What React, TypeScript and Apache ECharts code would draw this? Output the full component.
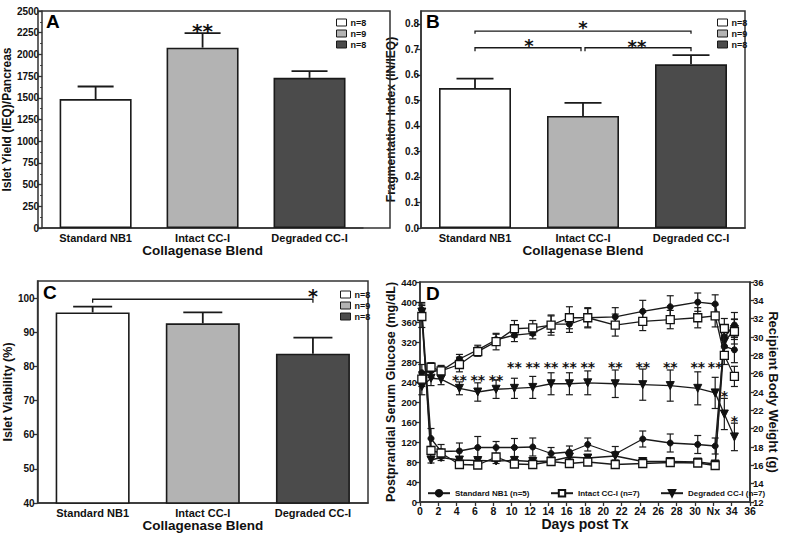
import React, { useEffect, useRef } from 'react';
import * as echarts from 'echarts';

const FONT = '"Liberation Sans", Arial, Helvetica, sans-serif';
const STAR_FONT = '"DejaVu Sans", sans-serif';
const INK = '#1a1a1a';
const FRAME = '#333333';

// ---------- Panels A-C (bar charts) ----------
const categories = ['Standard NB1', 'Intact CC-I', 'Degraded CC-I'];
const nLabels = ['n=8', 'n=9', 'n=8'];
const barColors = ['#ffffff', '#b3b3b3', '#4b4b4b'];

const yieldMean = [1485, 2078, 1730];
const yieldErr = [145, 168, 78];
const fragMean = [0.548, 0.439, 0.641];
const fragErr = [0.037, 0.051, 0.036];
const viabMean = [95.8, 92.6, 83.7];
const viabErr = [1.7, 3.2, 4.7];

// annotations: [x1, x2, bracketY, bracketEndY, starT, starY]
const yieldNotes = [[1, 1, NaN, NaN, 0, 2316]];
const yieldNoteLabels = ['**'];
const fragNotes = [
  [0, 2, 0.771, 0.761, 0.5, 0.801],
  [0, 1, 0.706, 0.692, 0.5, 0.729],
  [1, 2, 0.706, 0.692, 0.5, 0.728],
];
const fragNoteLabels = ['*', '*', '**'];
const viabNotes = [[0, 2, 99.65, 98.6, 1, 101.7]];
const viabNoteLabels = ['*'];

// ---------- Panel D (time course) ----------
const days = [0.2, 1.2, 2.3, 4.3, 6.3, 8.3, 10.3, 12.3, 14.3, 16.3, 18.3, 21.3, 24.3, 27.3, 30.3, 32.2, 33.2, 34.3];

const glucoseStd = [384, 127, 101, 102, 109, 109, 109, 110, 97, 100, 115, 96, 126, 118, 115, 112, 330, 354];
const glucoseStdErr = [15, 20, 14, 16, 22, 12, 18, 18, 12, 12, 13, 15, 16, 18, 18, 16, 22, 25];
const glucoseIntact = [371, 103, 98, 75, 74, 90, 76, 75, 81, 77, 80, 75, 77, 79, 78, 73, 347, 341];
const glucoseIntactErr = [22, 8, 7, 5, 4, 5, 4, 4, 4, 4, 4, 4, 4, 4, 4, 4, 20, 25];
const glucoseDeg = [380, 84, 89, 84, 83, 82, 83, 81, 82, 90, 88, 92, 81, 81, 80, 76, 320, 345];
const glucoseDegErr = [16, 6, 6, 5, 5, 5, 5, 5, 5, 6, 5, 8, 4, 4, 4, 4, 22, 20];

const weightStd = [26.1, 26.3, 26.3, 27.6, 28.6, 29.7, 30.2, 30.4, 31.4, 31.4, 32.1, 32.2, 32.8, 33.3, 33.8, 33.6, 29.0, 28.6];
const weightStdErr = [0.9, 0.7, 0.6, 0.5, 0.5, 0.6, 0.7, 0.6, 0.9, 0.9, 1.0, 1.0, 1.2, 1.2, 1.0, 1.0, 1.2, 1.4];
const weightIntact = [25.4, 26.7, 26.3, 27.0, 28.4, 29.5, 30.9, 31.0, 31.3, 32.1, 32.1, 31.3, 31.7, 31.9, 32.1, 32.3, 28.0, 25.7];
const weightIntactErr = [0.8, 0.5, 0.5, 0.8, 0.5, 0.9, 0.9, 0.8, 1.1, 1.2, 1.1, 1.2, 1.0, 1.0, 1.1, 1.2, 1.0, 1.1];
const weightDeg = [24.6, 25.5, 25.4, 24.4, 24.0, 24.3, 24.4, 24.5, 24.9, 24.9, 25.0, 24.9, 24.8, 24.7, 24.4, 23.9, 21.6, 19.1];
const weightDegErr = [0.9, 0.8, 0.6, 0.7, 1.0, 1.0, 1.1, 1.2, 1.2, 1.2, 1.3, 1.5, 1.7, 1.7, 1.8, 1.7, 1.7, 1.5];

const dGroups = ['Standard NB1 (n=5)', 'Intact CC-I (n=7)', 'Degraded CC-I (n=7)'];
const dStarDays = [4.3, 6.3, 8.3, 10.3, 12.3, 14.3, 16.3, 18.3, 21.3, 24.3, 27.3, 30.3, 32.2, 33.2, 34.3];
const dStarY = [251, 251, 251, 277, 277, 277, 277, 277, 277, 277, 277, 277, 277, 218, 169];
const dStarLabels = ['**', '**', '**', '**', '**', '**', '**', '**', '**', '**', '**', '**', '**', '*', '*'];

const xTickLabels: Record<number, string> = { 32: 'Nx' };

function buildOption() {
  const bold = { fontFamily: FONT, fontWeight: 'bold' as const, color: '#111' };
  const axisLine = { show: true, lineStyle: { color: FRAME, width: 1.5 } };
  const axisTick = { show: true, length: 4, lineStyle: { color: FRAME, width: 1.3 } };
  const frame = { show: true, borderColor: FRAME, borderWidth: 1.5, backgroundColor: 'transparent' };

  const grid = [
    { left: 38, top: 11, width: 325, height: 217 },
    { left: 421, top: 11, width: 324, height: 217, ...frame },
    { left: 37, top: 281, width: 331, height: 222, ...frame },
    { left: 420, top: 282, width: 330, height: 220, ...frame },
  ];

  const catAxis = (k: number, gap: number) => ({
    type: 'category', gridIndex: k, data: categories,
    axisLine, axisTick: { show: false },
    axisLabel: { ...bold, fontSize: 11, margin: 4, interval: 0 },
    name: 'Collagenase Blend', nameLocation: 'middle', nameGap: gap,
    nameTextStyle: { ...bold, fontSize: 13.5 },
  });

  const xAxis: any[] = [
    catAxis(0, 14), catAxis(1, 14), catAxis(2, 12),
    {
      type: 'value', gridIndex: 3, min: 0, max: 36, interval: 2,
      axisLine, axisTick, splitLine: { show: false },
      axisLabel: { ...bold, fontSize: 10.5, margin: 3, formatter: (v: number) => xTickLabels[v] ?? String(v) },
      name: 'Days post Tx', nameLocation: 'middle', nameGap: 14,
      nameTextStyle: { ...bold, fontSize: 14 },
    },
  ];

  const yAxis: any[] = [
    {
      type: 'value', gridIndex: 0, min: 0, max: 2500, interval: 250,
      axisLine, axisTick, minorTick: { show: true, splitNumber: 2, length: 2, lineStyle: { color: FRAME } },
      splitLine: { show: false }, minorSplitLine: { show: false },
      axisLabel: { ...bold, fontSize: 10, margin: 3, formatter: (v: number) => String(v) },
      name: 'Islet Yield (IEQ)/Pancreas', nameLocation: 'middle', nameGap: 22,
      nameTextStyle: { ...bold, fontSize: 12 },
    },
    {
      type: 'value', gridIndex: 1, min: 0, max: 0.85, interval: 0.1,
      axisLine, axisTick, splitLine: { show: false },
      axisLabel: { ...bold, fontSize: 10, margin: 2, showMaxLabel: false, formatter: (v: number) => v.toFixed(1) },
      name: 'Fragmentation Index (IN/IEQ)', nameLocation: 'middle', nameGap: 24,
      nameTextStyle: { ...bold, fontSize: 12 },
    },
    {
      type: 'value', gridIndex: 2, min: 40, max: 105, interval: 10,
      axisLine, axisTick, splitLine: { show: false },
      axisLabel: { ...bold, fontSize: 10, margin: 3, showMaxLabel: false },
      name: 'Islet Viability (%)', nameLocation: 'middle', nameGap: 18,
      nameTextStyle: { ...bold, fontSize: 12.5 },
    },
    {
      type: 'value', gridIndex: 3, min: 0, max: 440, interval: 40,
      axisLine, axisTick, splitLine: { show: false },
      axisLabel: { ...bold, fontSize: 9.5, margin: 3 },
      name: 'Postprandial Serum Glucose (mg/dL)', nameLocation: 'middle', nameGap: 21,
      nameTextStyle: { ...bold, fontSize: 12.5 },
    },
    {
      type: 'value', gridIndex: 3, position: 'right', min: 12, max: 36, interval: 2,
      axisLine, axisTick, splitLine: { show: false },
      axisLabel: { ...bold, fontSize: 9.5, margin: 3 },
      name: 'Recipient Body Weight (g)', nameLocation: 'middle', nameGap: 15, nameRotate: -90,
      nameTextStyle: { ...bold, fontSize: 13 },
    },
  ];

  const series: any[] = [];

  const barPanel = (k: number, means: number[], errs: number[], barW: number, capW: number,
    notes: number[][], noteLabels: string[], starSize: number) => {
    categories.forEach((name, i) => {
      series.push({
        type: 'bar', name, xAxisIndex: k, yAxisIndex: k, barWidth: barW, barGap: '-100%',
        data: means.map((m, j) => (j === i ? m : '-')),
        itemStyle: { color: barColors[i], borderColor: INK, borderWidth: 1.6 },
        silent: true, z: 2,
      });
    });
    series.push({
      type: 'custom', xAxisIndex: k, yAxisIndex: k, silent: true, z: 3,
      data: means.map((m, i) => [i, m, errs[i]]),
      renderItem: (params: any, api: any) => {
        const x = api.value(0), m = api.value(1), e = api.value(2);
        const p0 = api.coord([x, m]);
        const p1 = api.coord([x, m + e]);
        const style = { stroke: INK, lineWidth: 1.8 };
        return {
          type: 'group', children: [
            { type: 'line', shape: { x1: p0[0], y1: p0[1], x2: p1[0], y2: p1[1] }, style },
            { type: 'line', shape: { x1: p1[0] - capW / 2, y1: p1[1], x2: p1[0] + capW / 2, y2: p1[1] }, style },
          ],
        };
      },
    });
    series.push({
      type: 'custom', xAxisIndex: k, yAxisIndex: k, silent: true, z: 4,
      data: notes,
      renderItem: (params: any, api: any) => {
        const x1 = api.value(0), x2 = api.value(1), by = api.value(2), be = api.value(3);
        const t = api.value(4), sy = api.value(5);
        const children: any[] = [];
        const sA = api.coord([x1, sy]);
        const sB = api.coord([x2, sy]);
        const sx = sA[0] + (sB[0] - sA[0]) * t;
        if (x1 !== x2) {
          const a = api.coord([x1, by]);
          const b = api.coord([x2, by]);
          const ae = api.coord([x1, be]);
          const left = params.dataIndex === 2 && k === 1 ? 2 : 0;
          const right = params.dataIndex === 1 && k === 1 ? 2 : 0;
          children.push({
            type: 'polyline',
            shape: { points: [[a[0] + left, ae[1]], [a[0] + left, a[1]], [b[0] - right, b[1]], [b[0] - right, ae[1]]] },
            style: { stroke: INK, lineWidth: 1.3, fill: 'none' },
          });
        }
        children.push({
          type: 'text', x: sx, y: sA[1] + starSize * 0.22,
          style: {
            text: noteLabels[params.dataIndex], fill: '#111', fontFamily: STAR_FONT, fontWeight: 'bold',
            fontSize: starSize, align: 'center', verticalAlign: 'middle',
          },
        });
        return { type: 'group', children };
      },
    });
  };

  barPanel(0, yieldMean, yieldErr, 72, 36, yieldNotes, yieldNoteLabels, 20);
  barPanel(1, fragMean, fragErr, 72, 37, fragNotes, fragNoteLabels, 18);
  barPanel(2, viabMean, viabErr, 74, 39, viabNotes, viabNoteLabels, 19);

  const legendBox = (left: number, top: number) => ({
    left, top, orient: 'vertical', data: categories, selectedMode: false,
    icon: 'rect', itemWidth: 10, itemHeight: 7, itemGap: 2,
    itemStyle: { borderColor: INK, borderWidth: 1 },
    formatter: (name: string) => nLabels[categories.indexOf(name)],
    textStyle: { ...bold, fontSize: 9, padding: [0, 0, 0, -1] },
  });

  // Panel D series
  const symbols = [
    { symbol: 'circle', symbolSize: 6, itemStyle: { color: '#111', borderColor: '#111', borderWidth: 1 }, symbolRotate: 0 },
    { symbol: 'rect', symbolSize: 8, itemStyle: { color: '#ffffff', borderColor: '#111', borderWidth: 1.3 }, symbolRotate: 0 },
    { symbol: 'triangle', symbolSize: 8, itemStyle: { color: '#111', borderColor: '#111', borderWidth: 1 }, symbolRotate: 180 },
  ];
  const dSets = [
    { g: 0, axis: 3, vals: glucoseStd, errs: glucoseStdErr },
    { g: 1, axis: 3, vals: glucoseIntact, errs: glucoseIntactErr },
    { g: 2, axis: 3, vals: glucoseDeg, errs: glucoseDegErr },
    { g: 0, axis: 4, vals: weightStd, errs: weightStdErr },
    { g: 1, axis: 4, vals: weightIntact, errs: weightIntactErr },
    { g: 2, axis: 4, vals: weightDeg, errs: weightDegErr },
  ];
  dSets.forEach((s) => {
    series.push({
      type: 'custom', xAxisIndex: 3, yAxisIndex: s.axis, silent: true, z: 2,
      data: days.map((d, i) => [d, s.vals[i], s.errs[i]]),
      renderItem: (params: any, api: any) => {
        const x = api.value(0), y = api.value(1), e = api.value(2);
        const top = api.coord([x, y + e]);
        const bot = api.coord([x, y - e]);
        const style = { stroke: INK, lineWidth: 1.2 };
        const c = 3.5;
        return {
          type: 'group', children: [
            { type: 'line', shape: { x1: top[0], y1: top[1], x2: bot[0], y2: bot[1] }, style },
            { type: 'line', shape: { x1: top[0] - c, y1: top[1], x2: top[0] + c, y2: top[1] }, style },
            { type: 'line', shape: { x1: bot[0] - c, y1: bot[1], x2: bot[0] + c, y2: bot[1] }, style },
          ],
        };
      },
    });
  });
  dSets.forEach((s) => {
    series.push({
      type: 'line', name: dGroups[s.g], xAxisIndex: 3, yAxisIndex: s.axis, silent: true,
      z: s.g === 1 ? 4 : 3,
      data: days.map((d, i) => [d, s.vals[i]]),
      lineStyle: { color: INK, width: 1.3 },
      ...symbols[s.g],
      showAllSymbol: true,
    });
  });
  series.push({
    type: 'custom', xAxisIndex: 3, yAxisIndex: 3, silent: true, z: 5,
    data: dStarDays.map((d, i) => [d, dStarY[i]]),
    renderItem: (params: any, api: any) => {
      const p = api.coord([api.value(0), api.value(1)]);
      return {
        type: 'text', x: p[0], y: p[1] + 14 * 0.22,
        style: {
          text: dStarLabels[params.dataIndex], fill: '#111', fontFamily: STAR_FONT, fontWeight: 'bold',
          fontSize: 14, align: 'center', verticalAlign: 'middle',
        },
      };
    },
  });

  const dLegend = (i: number, left: number) => ({
    left, top: 484, data: [dGroups[i]], selectedMode: false,
    itemWidth: 22, itemHeight: 8,
    textStyle: { fontFamily: FONT, fontSize: 8, color: '#111', fontWeight: 'bold' },
  });

  const letter = (text: string, x: number, y: number) => ({
    type: 'text', x, y, silent: true,
    style: { text, fill: '#000', fontFamily: FONT, fontWeight: 'bold', fontSize: 19, align: 'left', verticalAlign: 'top' },
  });

  return {
    animation: false,
    backgroundColor: '#ffffff',
    grid,
    xAxis,
    yAxis,
    legend: [
      legendBox(331, 13),
      legendBox(712, 13),
      legendBox(335, 285),
      dLegend(0, 422),
      dLegend(1, 545),
      dLegend(2, 655),
    ],
    series,
    graphic: [
      { type: 'rect', silent: true, z: 1, shape: { x: 38, y: 11, width: 352, height: 217 }, style: { fill: 'none', stroke: FRAME, lineWidth: 1.5 } },
      letter('A', 46, 12),
      letter('B', 426, 12),
      letter('C', 43, 283),
      letter('D', 426, 284),
    ],
  };
}

export default function App() {
  const ref = useRef<HTMLDivElement>(null);
  useEffect(() => {
    if (!ref.current) return;
    const chart = echarts.init(ref.current, null, { renderer: 'svg' });
    chart.setOption(buildOption() as any);
    return () => chart.dispose();
  }, []);
  return (
    <div
      ref={ref}
      style={{ position: 'absolute', left: 0, top: 0, width: 800, height: 534, background: '#fff' }}
    />
  );
}
